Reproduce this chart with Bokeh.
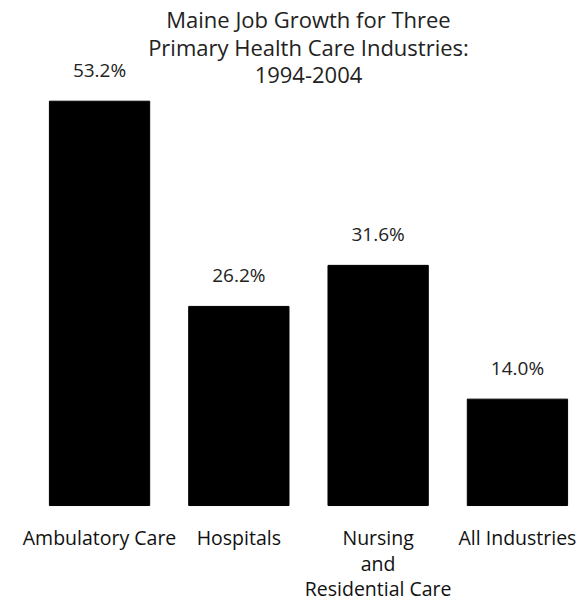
from bokeh.plotting import figure
from bokeh.models import ColumnDataSource, Range1d
from bokeh.core.properties import value
from bokeh.embed import file_html
from bokeh.resources import INLINE

categories = ["Ambulatory Care", "Hospitals", "Nursing\nand\nResidential Care", "All Industries"]
growth = [53.2, 26.2, 31.6, 14.0]
value_labels = ["53.2%", "26.2%", "31.6%", "14.0%"]
title_lines = ["Maine Job Growth for Three", "Primary Health Care Industries:", "1994-2004"]

FONT = value("Open Sans")
xs = list(range(len(categories)))

p = figure(width=576, height=603, output_backend="svg", toolbar_location=None,
           x_range=Range1d(-0.711, 3.424), y_range=Range1d(-12.89, 66.45),
           min_border=0)
p.axis.visible = False
p.grid.visible = False
p.outline_line_color = None
p.background_fill_color = "white"
p.border_fill_color = "white"

src = ColumnDataSource(dict(x=xs, top=growth, lab=value_labels))
p.vbar(x="x", top="top", bottom=0, width=0.72, source=src, fill_color="black", line_color="black")

p.text(x="x", y="top", text="lab", source=src, text_font=FONT, text_font_size="19px",
       text_align="center", text_baseline="alphabetic", y_offset=-31, text_color="#222222")

# category labels, one glyph row per text line
cx, cline, coff = [], [], []
for i, cat in enumerate(categories):
    for j, line in enumerate(cat.split("\n")):
        cx.append(xs[i])
        cline.append(line)
        coff.append(32 + 25.5 * j)
csrc = ColumnDataSource(dict(x=cx, t=cline, off=coff))
p.text(x="x", y=0, text="t", y_offset="off", source=csrc, text_font=FONT, text_font_size="19.5px",
       text_align="center", text_baseline="middle", text_color="#111111")

ytop = p.y_range.end
tsrc = ColumnDataSource(dict(x=[(xs[0] + xs[-1]) / 2] * 3, y=[ytop] * 3, t=title_lines, off=[18, 46, 74]))
p.text(x="x", y="y", text="t", y_offset="off", source=tsrc, text_font=FONT, text_font_size="22px",
       text_align="center", text_baseline="middle", text_color="#222222")

open("out.html", "w").write(file_html(p, INLINE))
